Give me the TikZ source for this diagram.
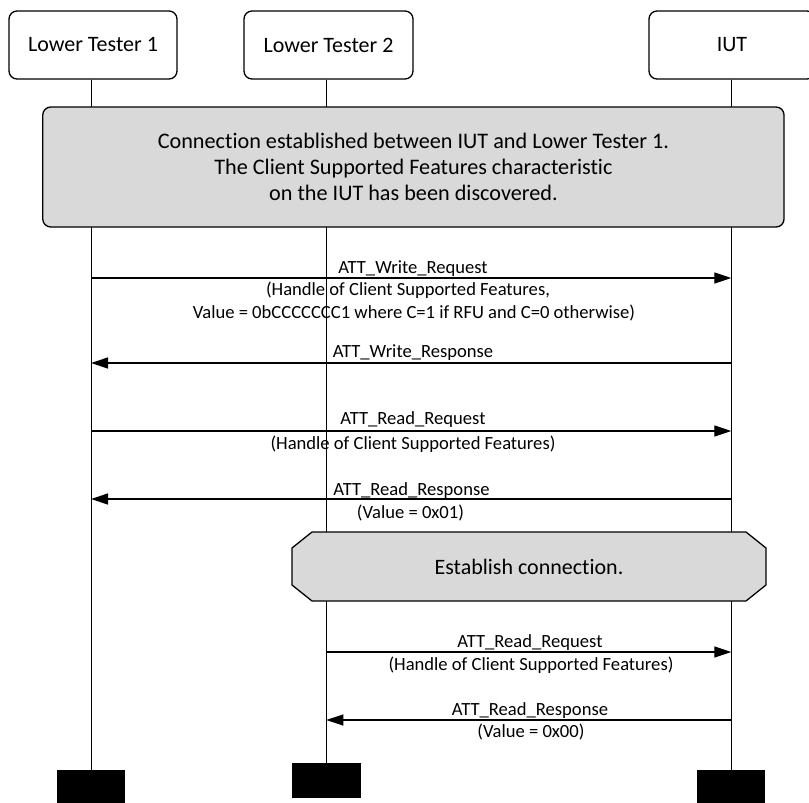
\documentclass[tikz,border=0pt]{standalone}
\usepackage{fontspec}
\setmainfont{Carlito}[Ligatures=NoCommon]
\usetikzlibrary{arrows.meta}
\definecolor{boxgray}{HTML}{D9D9D9}
\begin{document}
\begin{tikzpicture}[x=0.5pt,y=-0.5pt,
  head/.style={draw, line width=0.65pt, rounded corners=4pt, minimum height=34pt, inner sep=0pt, font=\fontsize{11}{13}\selectfont},
  endbox/.style={fill=black, draw=none, inner sep=0pt},
  life/.style={line width=0.5pt},
  msg/.style={line width=0.65pt, -{Triangle[length=8.5pt,width=5.5pt]}},
  lbl/.style={anchor=base, inner sep=0pt, font=\fontsize{9.3}{11}\selectfont},
  graybox/.style={draw, line width=0.65pt, fill=boxgray, rounded corners=4pt, inner sep=0pt},
  big/.style={inner sep=0pt, font=\fontsize{11}{13}\selectfont}
]
\useasboundingbox (0,0) rectangle (809,803);
% heading boxes
\node[head, minimum width=84pt] (lt1) at (93,45) {Lower Tester 1};
\node[head, minimum width=84.5pt] (lt2) at (328.5,45) {Lower Tester 2};
\node[head, minimum width=83pt] (iut) at (732,45) {IUT};
% end boxes
\node[endbox, minimum width=34.3pt, minimum height=16.5pt] (e1) at (91,786.5) {};
\node[endbox, minimum width=34.3pt, minimum height=17.5pt] (e2) at (326.3,780.8) {};
\node[endbox, minimum width=34pt, minimum height=16.5pt] (e3) at (731.3,786.5) {};
% lifelines
\draw[life] (e1.north |- lt1.south) -- (e1.north);
\draw[life] (e2.north |- lt2.south) -- (e2.north);
\draw[life] (e3.north |- iut.south) -- (e3.north);
% condition box
\node[graybox, minimum width=370.65pt, minimum height=60pt, align=center, font=\fontsize{11.1}{13}\selectfont] (conn) at (413.4,167) {Connection established between IUT and Lower Tester 1.\\The Client Supported Features characteristic\\on the IUT has been discovered.};
% messages
\draw[msg] (e1.north |- 0,278) -- (e3.north |- 0,278);
\node[lbl] (m1) at (413,273) {ATT\_Write\_Request};
\node[lbl] (m1a) at (408,295) {(Handle of Client Supported Features,};
\node[lbl] (m1b) at (414,318) {Value = 0bCCCCCCC1 where C=1 if RFU and C=0 otherwise)};

\draw[msg] (e3.north |- 0,363) -- (e1.north |- 0,363);
\node[lbl] (m2) at (413,357) {ATT\_Write\_Response};

\draw[msg] (e1.north |- 0,431) -- (e3.north |- 0,431);
\node[lbl] (m3) at (413,424) {ATT\_Read\_Request};
\node[lbl] (m3a) at (413,449) {(Handle of Client Supported Features)};

\draw[msg] (e3.north |- 0,499) -- (e1.north |- 0,499);
\node[lbl] (m4) at (411.5,495) {ATT\_Read\_Response};
\node[lbl] (m4a) at (410.5,518) {(Value = 0x01)};

% establish connection
\draw[line width=0.65pt, fill=boxgray] (312,532) -- (746,532) -- (766,548) -- (766,585) -- (746,601) -- (312,601) -- (292,585) -- (292,548) -- cycle;
\node[big, anchor=base] (est) at (529,574) {Establish connection.};

\draw[msg] (e2.north |- 0,652) -- (e3.north |- 0,652);
\node[lbl] (m5) at (530,647) {ATT\_Read\_Request};
\node[lbl] (m5a) at (531,670) {(Handle of Client Supported Features)};

\draw[msg] (e3.north |- 0,720) -- (e2.north |- 0,720);
\node[lbl] (m6) at (530,715) {ATT\_Read\_Response};
\node[lbl] (m6a) at (531,737) {(Value = 0x00)};
\end{tikzpicture}
\end{document}
